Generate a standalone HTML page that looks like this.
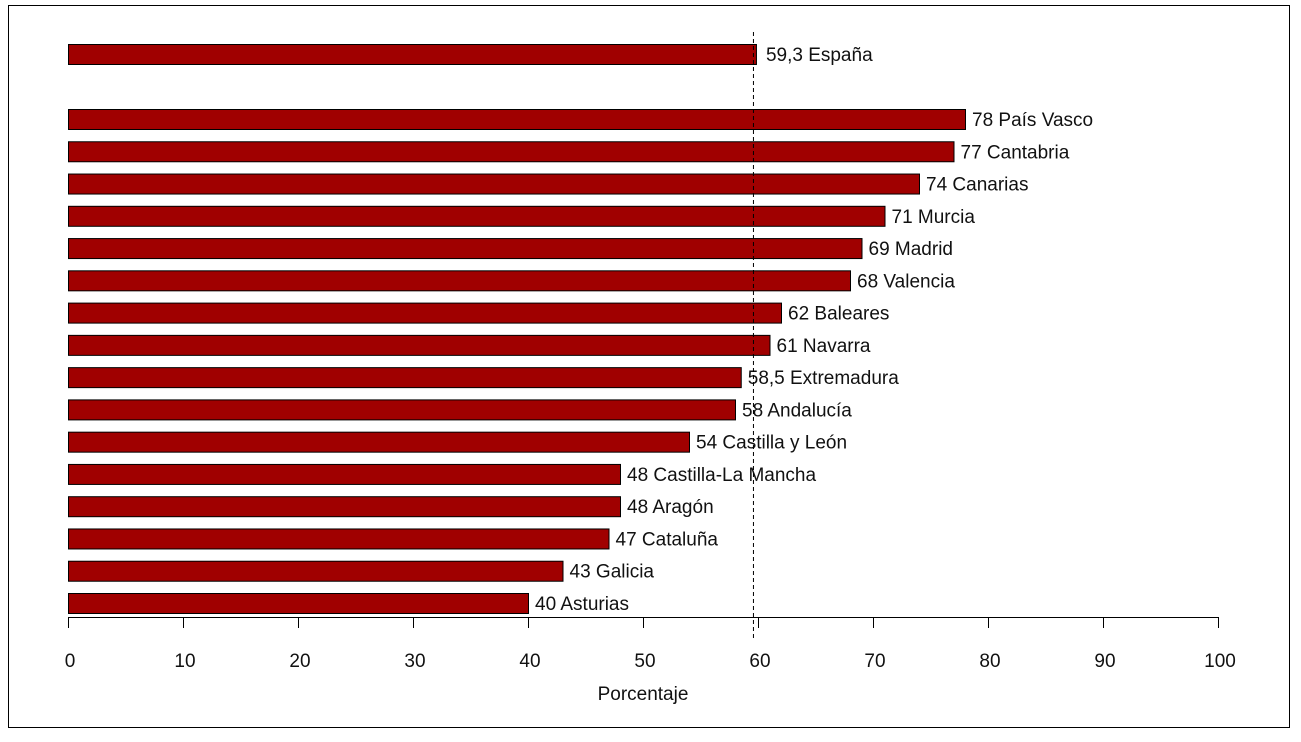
<!DOCTYPE html>
<html><head><meta charset="utf-8"><style>
body{margin:0;background:#fff;}
svg text{font-family:"Liberation Sans Narrow","Liberation Sans",sans-serif;font-size:19px;fill:#111;}
</style></head><body>
<svg id="chart" width="1301" height="737" xmlns="http://www.w3.org/2000/svg">
<rect x="8.5" y="5.5" width="1281" height="722" fill="none" stroke="#000" stroke-width="1"/>
<g id="bars"></g>
<g id="axis"></g>
</svg>
<script>
const regions=["País Vasco","Cantabria","Canarias","Murcia","Madrid","Valencia","Baleares","Navarra","Extremadura","Andalucía","Castilla y León","Castilla-La Mancha","Aragón","Cataluña","Galicia","Asturias"];
const values=[78,77,74,71,69,68,62,61,58.5,58,54,48,48,47,43,40];
const valueLabels=["78","77","74","71","69","68","62","61","58,5","58","54","48","48","47","43","40"];
const spainValue=59.3;
const spainLabel="59,3 España";
const ticks=[0,10,20,30,40,50,60,70,80,90,100];

const NS="http://www.w3.org/2000/svg";
const x0=68,x1=1218;
const xs=v=>x0+(x1-x0)*v/100;
const rowY=i=>119+i*(603-119)/15;
const barH=20;
function mk(tag,attrs,parent){const e=document.createElementNS(NS,tag);for(const k in attrs)e.setAttribute(k,attrs[k]);parent.appendChild(e);return e;}
const bars=document.getElementById('bars'),axis=document.getElementById('axis');

let b=mk('rect',{x:x0+0.5,y:44.5,width:xs(spainValue)-x0+6,height:barH,fill:'#a00000',stroke:'#000','stroke-width':1},bars);


let t=mk('text',{x:xs(spainValue)+16,y:61},bars);t.textContent=spainLabel;



regions.forEach((r,i)=>{
  const y=rowY(i);
  const rc=mk('rect',{x:x0+0.5,y:y-barH/2+0.5,width:xs(values[i])-x0,height:barH,fill:'#a00000',stroke:'#000','stroke-width':1},bars);
  
  
  const tx=mk('text',{x:xs(values[i])+7,y:y+7},bars);
  tx.textContent=valueLabels[i]+' '+r;
  
  
});

const ref=mk('line',{x1:xs(spainValue)+3.5,x2:xs(spainValue)+3.5,y1:32,y2:640,stroke:'#000','stroke-width':1,'stroke-dasharray':'4,3'},axis);


const al=mk('line',{x1:x0,x2:x1,y1:617.5,y2:617.5,stroke:'#000','stroke-width':1},axis);


ticks.forEach(v=>{
  const tk=mk('line',{x1:xs(v)+0.5,x2:xs(v)+0.5,y1:617,y2:628,stroke:'#000','stroke-width':1},axis);
  
  
  const tl=mk('text',{x:xs(v)+2,y:667,'text-anchor':'middle'},axis);
  tl.textContent=v;
  
  
});
const ti=mk('text',{x:643,y:700,'text-anchor':'middle'},axis);
ti.textContent='Porcentaje';


</script>
</body></html>
